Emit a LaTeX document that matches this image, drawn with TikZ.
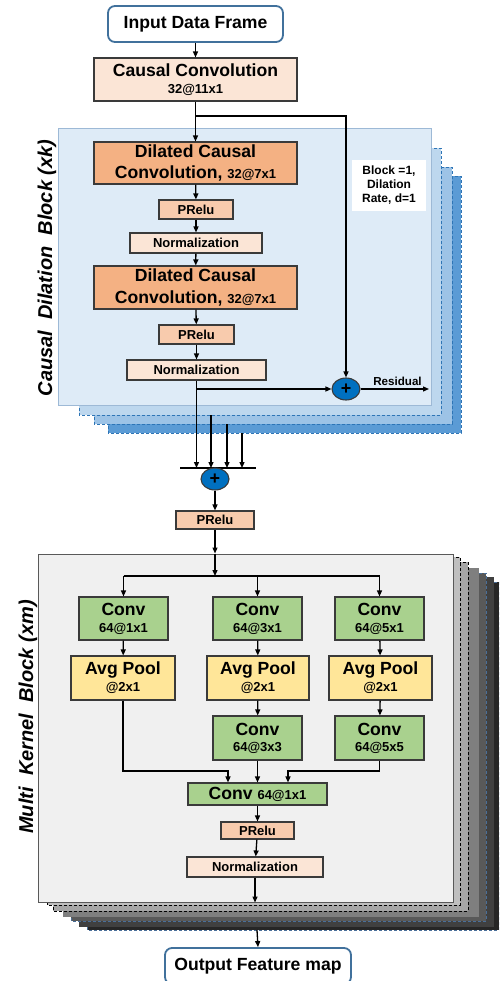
\documentclass[tikz,border=0pt]{standalone}
\usepackage{fontspec}
\setmainfont{Liberation Sans}
\usetikzlibrary{arrows.meta,shapes.geometric}
\definecolor{edge}{HTML}{3A3A3A}
\definecolor{iob}{HTML}{41719C}
\definecolor{ccfill}{HTML}{FBE5D6}
\definecolor{dcfill}{HTML}{F4B183}
\definecolor{prfill}{HTML}{F8CBAD}
\definecolor{nmfill}{HTML}{FBE5D6}
\definecolor{blueA}{HTML}{DEEBF7}
\definecolor{blueB}{HTML}{BDD7EE}
\definecolor{blueC}{HTML}{9DC3E6}
\definecolor{blueD}{HTML}{5B9BD5}
\definecolor{blueedge}{HTML}{9DB9D6}
\definecolor{dashb}{HTML}{2E75B6}
\definecolor{sumblue}{HTML}{0070C0}
\definecolor{convg}{HTML}{A9D18E}
\definecolor{poolg}{HTML}{FFE699}
\definecolor{mkfill}{HTML}{F0F0F0}
\definecolor{mkedge}{HTML}{595959}
\definecolor{gA}{HTML}{BFBFBF}
\definecolor{gB}{HTML}{A6A6A6}
\definecolor{gC}{HTML}{7F7F7F}
\definecolor{gD}{HTML}{595959}
\definecolor{gE}{HTML}{404040}
\definecolor{gF}{HTML}{262626}
\definecolor{gdash}{HTML}{4A6F99}
\newcommand{\smtxt}{\fontsize{13}{15}\selectfont}
\newcommand{\bgtxt}{\fontsize{17.6}{21.7}\selectfont}
\begin{document}
\begin{tikzpicture}[x=1pt,y=-1pt,
  bx/.style={draw=edge, line width=1.1pt, inner sep=0pt, align=center, font=\bgtxt\bfseries},
  smbx/.style={bx, font=\smtxt\bfseries},
  arr/.style={line width=1.3pt, -{Triangle[length=6pt,width=5pt]}},
  ln/.style={line width=1.3pt},
  io/.style={draw=iob, line width=1.8pt, rounded corners=7pt, fill=white, inner sep=0pt, font=\bgtxt\bfseries},
  sumc/.style={ellipse, draw=edge, line width=1.1pt, fill=sumblue, minimum width=28pt, minimum height=22pt, inner sep=0pt, font=\fontsize{18}{18}\selectfont\bfseries},
  blay/.style={draw=dashb, dashed, dash pattern=on 3pt off 2pt, line width=0.9pt},
  rotlab/.style={rotate=90, anchor=base, font=\fontsize{20}{20}\selectfont\bfseries\itshape}
]
\useasboundingbox (0,0) rectangle (499,981);
\clip (0,0) rectangle (499,981);

% ---------- Causal dilation block stack ----------
\draw[blay, fill=blueD] (108,176) rectangle (461,433);
\draw[blay, fill=blueC] (94,167) rectangle (452,424);
\draw[blay, fill=blueB] (79,148) rectangle (441,415);
\node[draw=blueedge, line width=1pt, fill=blueA, minimum width=373, minimum height=276, inner sep=0pt] (cdb) at (244.5,267) {};
\coordinate (l2b) at (211,415);
\coordinate (l3b) at (227,424);
\coordinate (l4b) at (242,433);

\node[rotlab] (cdlab) at (52,268) {Causal\ \ Dilation\ \ Block (xk)};

% ---------- Multi kernel block stack ----------
\draw[draw=gdash, dashed, dash pattern=on 3pt off 2pt, line width=0.9pt, fill=gF] (87,582) rectangle (499,930);
\draw[draw=gE, line width=0.6pt, fill=gE] (79,577) rectangle (493,926);
\draw[draw=gdash, dashed, dash pattern=on 3pt off 2pt, line width=0.9pt, fill=gD] (71,573) rectangle (486,921);
\draw[draw=gC, line width=0.6pt, fill=gC] (63,568) rectangle (478,916);
\draw[draw=black, dashed, dash pattern=on 3pt off 2pt, line width=0.9pt, fill=gB] (53,562) rectangle (468,911);
\draw[draw=black, dashed, dash pattern=on 3pt off 2pt, line width=0.9pt, fill=gA] (47,557) rectangle (460,905);
\node[draw=mkedge, line width=1pt, fill=mkfill, minimum width=414.5, minimum height=348, inner sep=0pt] (mkb) at (245.75,728) {};
\coordinate (l6b) at (257,930);

\node[rotlab] (mklab) at (33,717) {Multi\ \ Kernel\ \ Block (xm)};

% ---------- top part ----------
\node[io, minimum width=175, minimum height=36] (inp) at (195.5,24) {Input Data Frame};
\node[bx, fill=ccfill, minimum width=203, minimum height=43] (cc) at (195.5,79.5) {Causal Convolution\\[-4.7pt]{\smtxt 32@11x1}};
\node[bx, fill=dcfill, minimum width=203, minimum height=42] (dc1) at (195.5,163) {Dilated Causal\\Convolution, {\smtxt 32@7x1}};
\node[smbx, fill=prfill, minimum width=74, minimum height=19] (pr1) at (196,209.5) {PRelu};
\node[smbx, fill=nmfill, minimum width=132, minimum height=20] (nm1) at (196,243) {Normalization};
\node[bx, fill=dcfill, minimum width=203, minimum height=43] (dc2) at (195.5,287.5) {Dilated Causal\\Convolution, {\smtxt 32@7x1}};
\node[smbx, fill=prfill, minimum width=75, minimum height=19] (pr2) at (196.5,334.5) {PRelu};
\node[smbx, fill=nmfill, minimum width=139, minimum height=20] (nm2) at (196.5,370) {Normalization};
\node[sumc] (p1) at (346,389) {+};
\node[fill=white, minimum width=74, minimum height=51, inner sep=0pt, align=center, font=\fontsize{12}{14}\selectfont\bfseries] (blk) at (389,185.5) {Block =1,\\Dilation\\Rate, d=1};
\node[anchor=base, inner sep=0pt, font=\fontsize{11.6}{12}\selectfont\bfseries] (resl) at (397.5,385) {Residual};
\coordinate (resend) at (429,389);
\coordinate (br1) at (196,116);

\draw[arr] (inp.south) -- (cc.north);
\draw[arr] (cc.south) -- (dc1.north);
\draw[arr] (br1) -| (p1.north);
\draw[arr] (dc1) -- (pr1);
\draw[arr] (pr1) -- (nm1);
\draw[arr] (nm1) -- (dc2);
\draw[arr] (dc2) -- (pr2);
\draw[arr] (pr2) -- (nm2);
\draw[arr] (nm2.south |- p1.west) -- (p1.west);
\draw[arr] (p1.east) -- (resend);

% ---------- summation ----------
\coordinate (barL) at (180,468);
\coordinate (barR) at (256,468);
\draw[arr] (nm2.south) -- (nm2.south |- barL);
\draw[arr] (l2b) -- (l2b |- barL);
\draw[arr] (l3b) -- (l3b |- barL);
\draw[arr] (l4b) -- (l4b |- barL);
\draw[line width=1.8pt] (barL) -- (barR);
\node[sumc] (p2) at (215,479) {+};
\node[smbx, fill=prfill, minimum width=78, minimum height=18] (pr3) at (215,520) {PRelu};
\draw[arr] (p2.south) -- (pr3.north);
\draw[arr] (pr3.south) -- (pr3.south |- mkb.north);
\coordinate (br2) at (215,576);
\draw[arr] (pr3.south |- mkb.north) -- (br2);

% ---------- multi kernel ----------
\node[bx, fill=convg, minimum width=89, minimum height=43] (c1) at (123.5,618.5) {Conv\\[-4.7pt]{\smtxt 64@1x1}};
\node[bx, fill=convg, minimum width=89, minimum height=43] (c2) at (257.5,618.5) {Conv\\[-4.7pt]{\smtxt 64@3x1}};
\node[bx, fill=convg, minimum width=89, minimum height=43] (c3) at (379.5,618.5) {Conv\\[-4.7pt]{\smtxt 64@5x1}};
\node[bx, fill=poolg, minimum width=104, minimum height=44] (a1) at (123,678) {Avg Pool\\[-4.7pt]{\smtxt @2x1}};
\node[bx, fill=poolg, minimum width=102, minimum height=44] (a2) at (258,678) {Avg Pool\\[-4.7pt]{\smtxt @2x1}};
\node[bx, fill=poolg, minimum width=103, minimum height=44] (a3) at (380.5,678) {Avg Pool\\[-4.7pt]{\smtxt @2x1}};
\node[bx, fill=convg, minimum width=89, minimum height=44] (c4) at (257.5,738) {Conv\\[-5.7pt]{\smtxt 64@3x3}};
\node[bx, fill=convg, minimum width=89, minimum height=44] (c5) at (379.5,738) {Conv\\[-5.7pt]{\smtxt 64@5x5}};
\node[bx, fill=convg, minimum width=139, minimum height=22] (cf) at (257.5,794) {Conv {\smtxt 64@1x1}};
\node[smbx, fill=prfill, minimum width=73, minimum height=17] (pr4) at (257.5,830.5) {PRelu};
\node[smbx, fill=nmfill, minimum width=136, minimum height=20] (nm3) at (255,867) {Normalization};
\node[io, minimum width=186, minimum height=36] (out) at (258,966) {Output Feature map};

\draw[ln] (c1.north |- br2) -- (c3.north |- br2);
\draw[arr] (c1.north |- br2) -- (c1.north);
\draw[arr] (c2.north |- br2) -- (c2.north);
\draw[arr] (c3.north |- br2) -- (c3.north);
\draw[arr] (c1) -- (a1);
\draw[arr] (c2) -- (a2);
\draw[arr] (c3) -- (a3);
\draw[arr] (a2) -- (c4);
\draw[arr] (a3) -- (c5);
\coordinate (m1) at (228,771);
\coordinate (m2) at (288,771);
\draw[arr] (a1.south) |- (m1) -- (m1 |- cf.north);
\draw[arr] (c4.south) -- (c4.south |- cf.north);
\draw[arr] (c5.south) |- (m2) -- (m2 |- cf.north);
\draw[arr] (cf) -- (pr4);
\draw[arr] (pr4) -- (nm3);
\draw[arr] (nm3.south) -- (nm3.south |- mkb.south);
\draw[arr] (l6b) -- (out.north);
\end{tikzpicture}
\end{document}
